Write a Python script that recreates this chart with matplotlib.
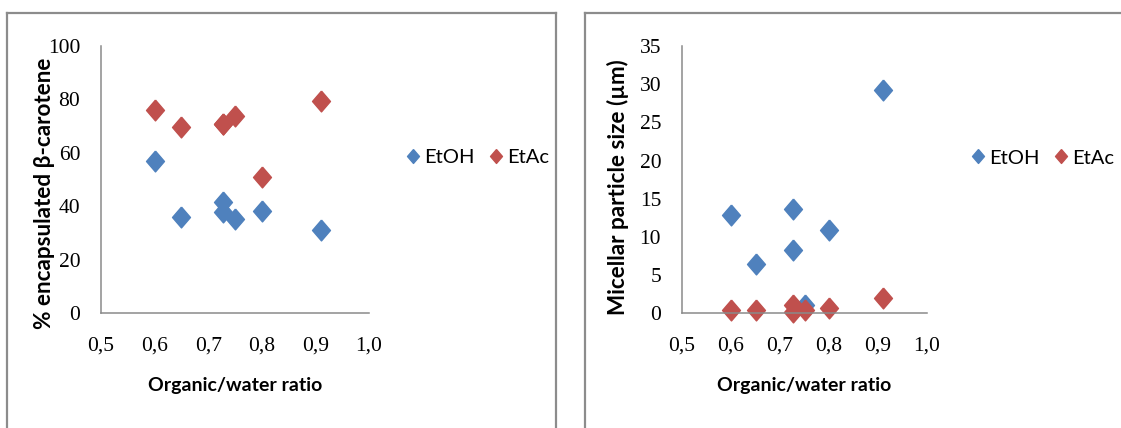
"""Two scatter panels: encapsulation and micellar size vs organic/water ratio."""

import matplotlib

matplotlib.use("Agg")
import matplotlib.pyplot as plt
from matplotlib.lines import Line2D

W, H = 1121, 428

RATIO = [0.6, 0.65, 0.727, 0.727, 0.75, 0.8, 0.91]

ENCAP_ETOH = [56.8, 36.1, 41.7, 37.9, 35.2, 38.2, 31.1]
ENCAP_ETAC = [76.0, 69.8, 71.0, 71.0, 73.8, 50.9, 79.4]

SIZE_ETOH = [12.9, 6.5, 13.7, 8.3, 1.1, 10.9, 29.3]
SIZE_ETAC = [0.43, 0.43, 1.1, 0.2, 0.43, 0.66, 2.0]

X_TICKS = [0.5, 0.6, 0.7, 0.8, 0.9, 1.0]
X_TICK_LABELS = ["0,5", "0,6", "0,7", "0,8", "0,9", "1,0"]

BLUE = "#4f81bd"
RED = "#c0504d"
SANS = ["Lato", "DejaVu Sans"]
SERIF = "Liberation Serif"

DIAMOND = [(0, 1), (0.86, 0), (0, -1), (-0.86, 0), (0, 1)]


def fx(px):
    return px / W


def fy(py):
    return 1 - py / H


def style_axes(ax, ylim, yticks):
    ax.set_xlim(0.5, 1.0)
    ax.set_ylim(*ylim)
    ax.set_xticks(X_TICKS)
    ax.set_xticklabels(X_TICK_LABELS)
    ax.set_yticks(yticks)
    for side in ("top", "right"):
        ax.spines[side].set_visible(False)
    for side in ("left", "bottom"):
        ax.spines[side].set_color("#8a8a8a")
        ax.spines[side].set_linewidth(1.1)
    ax.tick_params(length=0, labelsize=15.5)
    ax.tick_params(axis="x", pad=17)
    ax.tick_params(axis="y", pad=15)
    for lab in ax.get_xticklabels() + ax.get_yticklabels():
        lab.set_fontfamily(SERIF)
    ax.set_xlabel("Organic/water ratio", fontsize=14, fontweight="bold", family=SANS)
    ax.xaxis.label.set_va("center")
    ax.xaxis.set_label_coords(0.5, (313.3 - 385) / 267.3)


def add_legend(ax, x0, y0):
    handles = [
        Line2D([], [], ls="none", marker=DIAMOND, ms=10, color=BLUE),
        Line2D([], [], ls="none", marker=DIAMOND, ms=10, color=RED),
    ]
    ax.legend(handles, ["EtOH", "EtAc"], loc="center left",
              bbox_to_anchor=(fx(x0), fy(y0)), bbox_transform=ax.figure.transFigure,
              ncol=2, frameon=False, borderpad=0, borderaxespad=0,
              handlelength=0.6, handletextpad=0.25, columnspacing=0.75,
              prop={"family": SANS, "size": 14.5})


fig = plt.figure(figsize=(W / 100, H / 100), dpi=100)

# panel frames
frame = dict(color="#8c8c8c", lw=1.6, transform=fig.transFigure)
fig.add_artist(Line2D([fx(7), fx(7)], [fy(12.5), 0], **frame))
fig.add_artist(Line2D([fx(7), fx(556)], [fy(12.5), fy(12.5)], **frame))
fig.add_artist(Line2D([fx(556), fx(556)], [fy(12.5), 0], **frame))
fig.add_artist(Line2D([fx(585), fx(585)], [fy(12.5), 0], **frame))
fig.add_artist(Line2D([fx(585), 1], [fy(12.5), fy(12.5)], **frame))

ax1 = fig.add_axes([fx(101), fy(313.3), fx(369) - fx(101), fy(46) - fy(313.3)])
ax1.plot(RATIO, ENCAP_ETOH, ls="none", marker=DIAMOND, ms=15, color=BLUE)
ax1.plot(RATIO, ENCAP_ETAC, ls="none", marker=DIAMOND, ms=15, color=RED)
style_axes(ax1, (0, 100), [0, 20, 40, 60, 80, 100])
ax1.set_ylabel("% encapsulated β-carotene", fontsize=16.2, fontweight="bold", family=SANS)
ax1.yaxis.label.set_va("center")
ax1.yaxis.set_label_coords((45 - 101) / 268, (313.3 - 193) / 267.3)
add_legend(ax1, 407, 157)

ax2 = fig.add_axes([fx(682), fy(313.3), fx(927) - fx(682), fy(46) - fy(313.3)])
ax2.plot(RATIO, SIZE_ETOH, ls="none", marker=DIAMOND, ms=15, color=BLUE)
ax2.plot(RATIO, SIZE_ETAC, ls="none", marker=DIAMOND, ms=15, color=RED)
style_axes(ax2, (0, 35), [0, 5, 10, 15, 20, 25, 30, 35])
ax2.set_ylabel("Micellar particle size (µm)", fontsize=16.2, fontweight="bold", family=SANS)
ax2.yaxis.label.set_va("center")
ax2.yaxis.set_label_coords((618 - 682) / 245, (313.3 - 187) / 267.3)
for ax in (ax1, ax2):
    for line in ax.lines:
        line.set_clip_on(False)
add_legend(ax2, 972, 158)

fig.savefig("out.png", dpi=100)
